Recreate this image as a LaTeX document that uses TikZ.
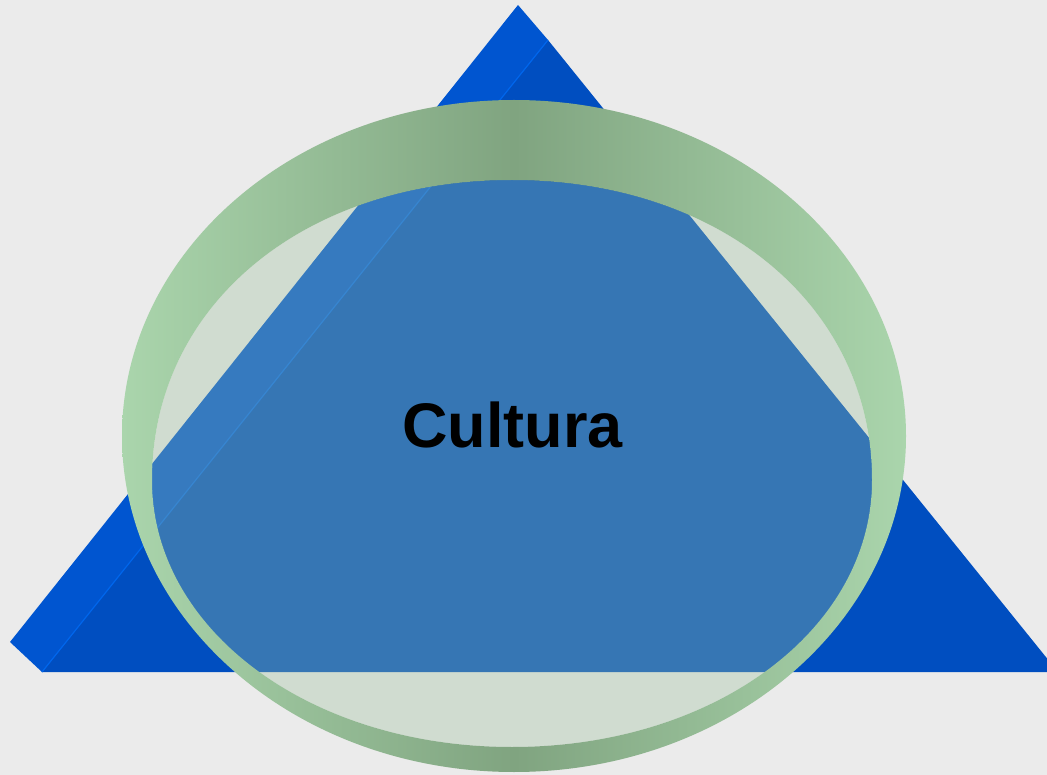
\documentclass[tikz,border=0pt]{standalone}
\usepackage{fontspec}
\newfontfamily\labelfont{Liberation Sans}

\definecolor{backgray}{RGB}{235,235,235}
\definecolor{sideblue}{RGB}{0,85,208}
\definecolor{frontblue}{RGB}{0,78,192}
\definecolor{ridgeblue}{RGB}{0,102,236}
\definecolor{ringlight}{RGB}{170,213,172}
\definecolor{ringdark}{RGB}{128,164,128}
\definecolor{wellgreen}{RGB}{159,194,159}

\begin{document}
\begin{tikzpicture}[x=1pt, y=-1pt,
                    sideface/.style={fill=sideblue},
                    frontface/.style={fill=frontblue},
                    ridgeline/.style={draw=ridgeblue, line width=1.2pt},
                    well/.style={fill=wellgreen, fill opacity=0.345},
                    ring/.style={left color=ringlight, right color=ringlight, middle color=ringdark}]

    % Define background
    \fill[backgray] (0,0) rectangle (1047,775);
    \useasboundingbox (0,0) rectangle (1047,775);
    \clip (0,0) rectangle (1047,775);

    % Define pyramid corners
    \coordinate (apex) at (518,5);      % top point
    \coordinate (ridge) at (548,40);    % top of front face
    \coordinate (west) at (10,642);     % outer corner of side face
    \coordinate (baseL) at (42,672);    % left end of base
    \coordinate (baseR) at (1058,672);  % right end of base

    % Draw pyramid
    \path[sideface] (apex) -- (west) -- (baseL) -- (ridge) -- cycle;
    \path[frontface] (ridge) -- (baseL) -- (baseR) -- cycle;
    \path[ridgeline] (ridge) -- (baseL);

    % Define inner rim of the ring
    \coordinate (wl) at (152,480);
    \coordinate (wt) at (512,180);
    \coordinate (wr) at (872,480);
    \coordinate (wb) at (512,747);

    % Draw well and ring
    \path[well] (wl) .. controls (152,306) and (303,180) .. (wt)
                     .. controls (721,180) and (872,306) .. (wr)
                     .. controls (872,630) and (714,747) .. (wb)
                     .. controls (310,747) and (152,630) .. (wl) -- cycle;
    \shade[ring, even odd rule] (514,436) ellipse [x radius=392, y radius=336]
                     (wl) .. controls (152,306) and (303,180) .. (wt)
                     .. controls (721,180) and (872,306) .. (wr)
                     .. controls (872,630) and (714,747) .. (wb)
                     .. controls (310,747) and (152,630) .. (wl) -- cycle;

    % Define label
    \node[font=\labelfont\bfseries\fontsize{63}{63}\selectfont, inner sep=0pt] (cultura) at (512.5,425) {Cultura};
\end{tikzpicture}
\end{document}
